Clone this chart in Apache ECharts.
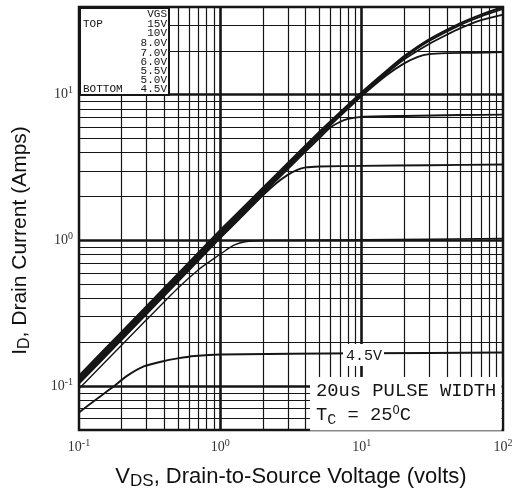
<!DOCTYPE html>
<html>
<head>
<meta charset="utf-8">
<script src="https://cdn.jsdelivr.net/npm/echarts@6/dist/echarts.min.js"></script>
<style>
  html, body { margin: 0; padding: 0; background: #fff; }
  #chart { width: 516px; height: 495px; }
</style>
</head>
<body>
<div id="chart"></div>
<script>
// output curves, [Vds volts, Id amps], one array per gate voltage
const vgs15 = [[0.1, 0.118], [0.2, 0.236], [0.5, 0.59], [1, 1.18], [2, 2.3], [3, 3.4], [5, 5.55], [7, 7.55], [10, 10.4], [15, 14.6], [20, 18.4], [30, 24], [50, 31], [70, 35.5], [100, 40]];
const vgs10 = [[0.1, 0.115], [0.2, 0.23], [0.5, 0.575], [1, 1.15], [2, 2.24], [3, 3.32], [5, 5.44], [7, 7.42], [10, 10.2], [15, 14.3], [20, 18], [30, 23.4], [50, 30.2], [70, 34.5], [100, 38.8]];
const vgs8 = [[0.1, 0.112], [0.2, 0.224], [0.5, 0.56], [1, 1.12], [2, 2.19], [3, 3.24], [5, 5.32], [7, 7.27], [10, 10], [15, 14], [20, 17.5], [30, 22.3], [40, 25.8], [50, 28.6], [70, 32.5], [100, 35.5]];
const vgs7 = [[0.1, 0.109], [0.2, 0.218], [0.5, 0.545], [1, 1.09], [2, 2.14], [3, 3.17], [5, 5.2], [7, 7.1], [10, 9.8], [15, 13.6], [20, 16.4], [25, 18.2], [30, 19], [40, 19.3], [60, 19.4], [100, 19.6]];
const vgs6 = [[0.1, 0.106], [0.2, 0.212], [0.5, 0.53], [1, 1.06], [2, 2.09], [3, 3.09], [4, 4.07], [5, 5.02], [6, 5.95], [7, 6.5], [8, 6.82], [10, 7.05], [20, 7.15], [50, 7.25], [100, 7.3]];
const vgs55 = [[0.1, 0.104], [0.2, 0.208], [0.5, 0.52], [1, 1.04], [1.5, 1.54], [2, 2.04], [2.5, 2.48], [3, 2.82], [3.5, 3.05], [4, 3.17], [5, 3.22], [10, 3.25], [30, 3.28], [100, 3.32]];
const vgs5 = [[0.1, 0.096], [0.2, 0.191], [0.3, 0.285], [0.5, 0.47], [0.7, 0.63], [0.9, 0.75], [1.1, 0.86], [1.25, 0.93], [1.5, 0.98], [2, 1.0], [5, 1.005], [10, 1.01], [100, 1.03]];
const vgs45 = [[0.1, 0.066], [0.13, 0.08], [0.17, 0.097], [0.22, 0.118], [0.29, 0.137], [0.38, 0.147], [0.5, 0.155], [0.66, 0.161], [1, 0.165], [10, 0.168], [100, 0.17]];

const curves = [vgs15, vgs10, vgs8, vgs7, vgs6, vgs55, vgs5, vgs45];
const legendLabels = ['15V', '10V', '8.0V', '7.0V', '6.0V', '5.5V', '5.0V', '4.5V'];

// log paper grid
const xGridMinor = [0.2, 0.3, 0.4, 0.5, 0.6, 0.7, 0.8, 0.9, 2, 3, 4, 5, 6, 7, 8, 9, 20, 30, 40, 50, 60, 70, 80, 90];
const xGridMajor = [1, 10];
const yGridMinor = [0.06, 0.07, 0.08, 0.09, 0.2, 0.3, 0.4, 0.5, 0.6, 0.7, 0.8, 0.9, 2, 3, 4, 5, 6, 7, 8, 9, 20, 30];
const yGridMajor = [0.1, 1, 10];

const ink = '#151515';

function decadeLabel(v) {
  const e = Math.log10(v);
  const r = Math.round(e);
  if (Math.abs(e - r) > 1e-6) return '';
  return '10{sup|' + r + '}';
}

const tickLabel = {
  formatter: decadeLabel,
  fontFamily: 'Liberation Serif',
  fontSize: 14,
  color: '#333',
  rich: {
    sup: { fontFamily: 'Liberation Serif', fontSize: 10, color: '#333', padding: [0, 0, 8, 0] }
  }
};

const gridLines = []
xGridMinor.forEach(v => gridLines.push({ xAxis: v, lineStyle: { width: 1.2 } }))
xGridMajor.forEach(v => gridLines.push({ xAxis: v, lineStyle: { width: 2.6 } }))
yGridMinor.forEach(v => gridLines.push({ yAxis: v, lineStyle: { width: 1.2 } }))
yGridMajor.forEach(v => gridLines.push({ yAxis: v, lineStyle: { width: 2.6 } }))

const chart = echarts.init(document.getElementById('chart'));

const legendRows = [24, 33, 43, 53, 62, 71, 80, 89];
const monoSmall = '11px "Liberation Mono"';
const legendTexts = legendLabels.map((t, i) => ({
  type: 'text', z: 101,
  style: { text: t, x: 167, y: legendRows[i], align: 'right', verticalAlign: 'middle', font: monoSmall, fill: ink }
}));

const nameRich = size => ({
  b: { fontFamily: 'Liberation Sans', fontSize: size, color: '#111' },
  sub: { fontFamily: 'Liberation Sans', fontSize: size - 5, color: '#111', padding: [10, 0, 0, 0] }
});

const option = {
  animation: false,
  grid: { left: 79, right: 13, top: 7, bottom: 63, show: true, borderColor: ink, borderWidth: 2.5 },
  xAxis: {
    type: 'log', min: 0.1, max: 100,
    name: '{b|V}{sub|DS}{b|, Drain-to-Source Voltage (volts)}',
    nameLocation: 'middle', nameGap: 33,
    nameTextStyle: { rich: nameRich(22) },
    axisLine: { show: false }, axisTick: { show: false }, splitLine: { show: false },
    axisLabel: Object.assign({ margin: 8 }, tickLabel)
  },
  yAxis: {
    type: 'log', min: 0.05, max: 40,
    name: '{b|I}{sub|D}{b|, Drain Current (Amps)}',
    nameLocation: 'middle', nameGap: 46,
    nameTextStyle: { rich: nameRich(21), padding: [0, 44, 0, 0] },
    axisLine: { show: false }, axisTick: { show: false }, splitLine: { show: false },
    axisLabel: Object.assign({ margin: 6 }, tickLabel)
  },
  series: [{
    type: 'line', data: [], z: 1, silent: true,
    markLine: {
      silent: true, symbol: ['none', 'none'], label: { show: false },
      lineStyle: { color: ink, type: 'solid' },
      data: gridLines
    }
  }].concat(curves.map((c, i) => ({
    type: 'line', name: legendLabels[i], data: c, z: 2,
    showSymbol: false, smooth: 0.2,
    lineStyle: { color: ink, width: i === 6 ? 1.4 : 1.9 }
  }))),
  graphic: [
    // Vgs key, top left
    { type: 'rect', z: 100, shape: { x: 80, y: 8, width: 89, height: 87 }, style: { fill: '#fff', stroke: ink, lineWidth: 2 } },
    { type: 'text', z: 101, style: { text: 'VGS', x: 167, y: 14, align: 'right', verticalAlign: 'middle', font: monoSmall, fill: ink } },
    { type: 'text', z: 101, style: { text: 'TOP', x: 83, y: 24, verticalAlign: 'middle', font: monoSmall, fill: ink } },
    { type: 'text', z: 101, style: { text: 'BOTTOM', x: 83, y: 89, verticalAlign: 'middle', font: monoSmall, fill: ink } }
  ].concat(legendTexts).concat([
    // 4.5V curve tag
    { type: 'rect', z: 100, shape: { x: 343, y: 344, width: 41, height: 22 }, style: { fill: '#fff' } },
    { type: 'text', z: 101, style: { text: '4.5V', x: 364, y: 356, align: 'center', verticalAlign: 'middle', font: '15px "Liberation Mono"', fill: ink } },
    // test conditions, bottom right
    { type: 'rect', z: 100, shape: { x: 310, y: 377, width: 191.5, height: 53.5 }, style: { fill: '#fff' } },
    { type: 'text', z: 101, style: { text: '20us PULSE WIDTH', x: 316, y: 391, verticalAlign: 'middle', font: '18.8px "Liberation Mono"', fill: ink } },
    {
      type: 'text', z: 101,
      style: {
        text: 'T{sub|C} = 25{sup|O}C', x: 316, y: 415, verticalAlign: 'middle',
        font: '18.8px "Liberation Mono"', fill: ink,
        rich: {
          sub: { font: '15px "Liberation Mono"', fill: ink, padding: [10, 0, 0, 0] },
          sup: { font: '12px "Liberation Mono"', fill: ink, padding: [0, 0, 9, 0] }
        }
      }
    }
  ])
};

chart.setOption(option);
</script>
</body>
</html>
